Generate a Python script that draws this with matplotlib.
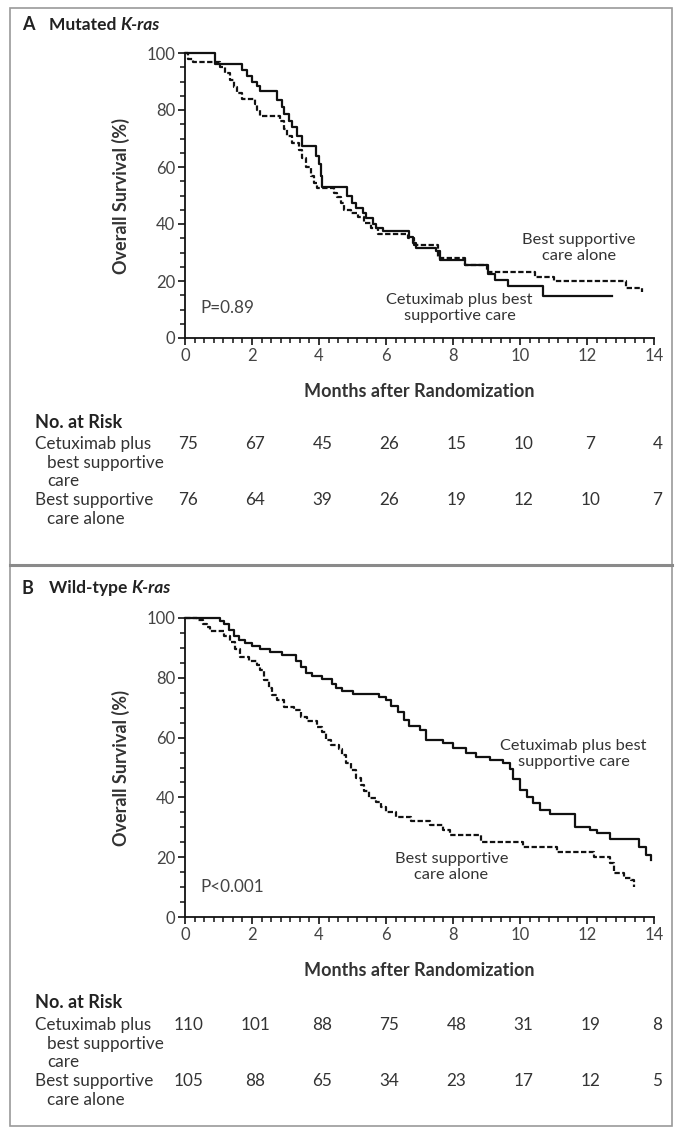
import matplotlib
matplotlib.use('Agg')
import matplotlib.pyplot as plt
from matplotlib.ticker import MultipleLocator, AutoMinorLocator
from matplotlib.patches import Rectangle
from matplotlib.lines import Line2D
import matplotlib.transforms as mtransforms

plt.rcParams['font.family'] = ['Lato', 'DejaVu Sans']

W, H = 675, 1129
text_col = '#333333'
fs_txt = 12.3
fs_ann = 11.8

# ── Panel A: mutated K-ras (step curves, KM) ─────────────
a_cet_t = [0, 0.9, 1.6, 1.7, 1.85, 2.0, 2.15, 2.25, 2.75, 2.9, 2.95, 3.1, 3.2, 3.35, 3.5,
           3.9, 4.0, 4.05, 4.1, 4.83, 4.98, 5.1, 5.3, 5.4, 5.6, 5.7, 5.9, 6.6, 6.7, 6.8,
           6.9, 7.5, 7.6, 8.35, 9.05, 9.25, 9.65, 10.7, 12.75]
a_cet_s = [100, 96, 96, 94, 92, 90, 88.5, 86.5, 83.5, 81, 78.5, 76, 74, 71, 67.5,
           64, 61, 57, 53, 50, 47.5, 45.5, 44, 42, 40, 38.5, 37.5, 37.5, 35.5, 33.5,
           31.5, 30.5, 27.5, 25.5, 22.5, 20.3, 18.3, 14.8, 14.8]

a_bsc_t = [0, 0.1, 0.25, 1.05, 1.2, 1.35, 1.45, 1.55, 1.7, 2.1, 2.15, 2.25, 2.85, 2.95,
           3.05, 3.2, 3.4, 3.5, 3.6, 3.75, 3.85, 3.95, 4.45, 4.55, 4.65, 4.75, 4.95, 5.15,
           5.35, 5.55, 5.75, 6.65, 6.85, 7.55, 8.35, 9.0, 10.45, 11.0, 13.15, 13.65]
a_bsc_s = [100, 98, 97, 95, 93, 90.5, 88, 86, 84, 82, 80, 78, 76, 73.5,
           71, 68.5, 66, 63, 60, 57, 54.5, 52.5, 51, 49.5, 47.5, 45, 44, 42.5,
           40.5, 38.5, 36.5, 35, 32.5, 28, 25.5, 23, 21.5, 20, 17.5, 16]

# ── Panel B: wild-type K-ras ─────────────────────────────
b_cet_t = [0, 1.05, 1.15, 1.3, 1.45, 1.6, 1.8, 2.0, 2.25, 2.55, 2.9, 3.3, 3.45, 3.6,
           3.8, 4.1, 4.4, 4.5, 4.7, 5.0, 5.8, 6.0, 6.15, 6.35, 6.55, 6.7, 7.0, 7.2,
           7.7, 8.0, 8.4, 8.7, 9.1, 9.5, 9.7, 9.8, 10.0, 10.2, 10.4, 10.6, 10.9, 11.65,
           12.1, 12.3, 12.7, 13.55, 13.75, 13.9]
b_cet_s = [100, 99, 98, 96, 94, 92.5, 91.5, 90.5, 89.5, 88.5, 87.5, 85.5, 83.5, 81.5,
           80.5, 79.5, 78, 76.5, 75.5, 74.5, 73.5, 72.5, 70.5, 68.5, 66, 64, 62.5, 59.2,
           58.2, 56.5, 55, 53.6, 52.5, 51.5, 49.5, 46, 42.5, 40.2, 38.1, 35.8, 34.6, 30,
           29.2, 28, 26, 23.5, 20.7, 19]

b_bsc_t = [0, 0.35, 0.55, 0.65, 0.75, 1.15, 1.35, 1.5, 1.65, 1.9, 2.15, 2.25, 2.35,
           2.5, 2.6, 2.75, 2.95, 3.25, 3.45, 3.65, 3.95, 4.1, 4.2, 4.35, 4.6, 4.7, 4.8,
           4.95, 5.1, 5.25, 5.35, 5.5, 5.7, 5.85, 6.0, 6.3, 6.75, 7.3, 7.7, 7.9, 8.85,
           10.1, 11.1, 12.2, 12.7, 12.8, 13.1, 13.3, 13.4]
b_bsc_s = [100, 99.3, 98, 97, 95.5, 94, 92, 89.5, 87, 85.5, 84.3, 82.5, 79.3,
           76.5, 74.3, 72.5, 70.4, 69.3, 67, 65.4, 63.7, 62, 59.2, 57.5, 56.3, 54.2, 51.5,
           49.2, 46.5, 44, 42, 39.7, 38.3, 36.8, 35.2, 33.5, 32.2, 30.8, 29.1, 27.4, 25.2,
           23.5, 21.8, 20.2, 18, 14.6, 13, 12.4, 10.1]

month_ticks = [0, 2, 4, 6, 8, 10, 12, 14]
a_risk_cet = ['75', '67', '45', '26', '15', '10', '7', '4']
a_risk_bsc = ['76', '64', '39', '26', '19', '12', '10', '7']
b_risk_cet = ['110', '101', '88', '75', '48', '31', '19', '8']
b_risk_bsc = ['105', '88', '65', '34', '23', '17', '12', '5']

fig = plt.figure(figsize=(W / 100, H / 100), dpi=100)


def fy(px):
    return 1 - px / H


def fx(px):
    return px / W


# frame + separator
fig.patches.append(Rectangle((fx(10), fy(1126)), fx(662), (1118) / H,
                             transform=fig.transFigure, fill=False,
                             edgecolor='#9a9a9a', linewidth=1.2))
fig.lines.append(Line2D([fx(10), fx(672)], [fy(565), fy(565)],
                        transform=fig.transFigure, color='#8a8a8a', linewidth=2.2))


def title(ypx, letter, word):
    r = fig.canvas.get_renderer()
    fig.text(fx(22), fy(ypx), letter, fontsize=13, fontweight='bold',
             color='#222222', va='center', ha='left')
    t2 = fig.text(fx(49), fy(ypx), word + ' ', fontsize=12.5, fontweight='bold',
                  color='#222222', va='center', ha='left')
    bb = t2.get_window_extent(r)
    fig.text(bb.x1 / fig.dpi / fig.get_figwidth(), fy(ypx), 'K-ras', fontsize=12.5,
             fontweight='bold', style='italic', color='#222222', va='center', ha='left')


def panel(top_px, bot_px, cet_t, cet_s, bsc_t, bsc_s):
    ax = fig.add_axes([fx(185), fy(bot_px), fx(654) - fx(185), (bot_px - top_px) / H])
    ax.step(cet_t, cet_s, where='post', color='#111111', linewidth=1.6, clip_on=False)
    ax.step(bsc_t, bsc_s, where='post', color='#111111', linewidth=1.6,
            linestyle=(0, (2.4, 1.1)), clip_on=False)
    ax.set_xlim(0, 14)
    ax.set_ylim(0, 100)
    ax.xaxis.set_major_locator(MultipleLocator(2))
    ax.xaxis.set_minor_locator(AutoMinorLocator(7))
    ax.yaxis.set_major_locator(MultipleLocator(20))
    ax.yaxis.set_minor_locator(MultipleLocator(5))
    for s in ['top', 'right']:
        ax.spines[s].set_visible(False)
    for s in ['left', 'bottom']:
        ax.spines[s].set_linewidth(1.3)
        ax.spines[s].set_color('#111111')
    ax.tick_params(which='major', length=5, width=1.2, color='#111111',
                   labelsize=12, labelcolor='#444444', pad=2)
    ax.tick_params(which='minor', length=3.5, width=1.1, color='#111111')
    ax.set_ylabel('Overall Survival (%)', fontsize=13, fontweight='bold',
                  color=text_col, labelpad=12)
    ax.set_xlabel('Months after Randomization', fontsize=13, fontweight='bold',
                  color=text_col, labelpad=14)
    return ax


def risk_table(ax, ypx, cet, bsc):
    tr = mtransforms.blended_transform_factory(ax.transData, fig.transFigure)
    fig.text(fx(35), fy(ypx), 'No. at Risk', fontsize=13, fontweight='bold',
             color='#222222', va='center', ha='left')
    rows = [(ypx + 22, 'Cetuximab plus', cet), (ypx + 78, 'Best supportive', bsc)]
    for y, lab, vals in rows:
        fig.text(fx(35), fy(y), lab, fontsize=fs_txt, color=text_col, va='center', ha='left')
        for m, v in zip(month_ticks, vals):
            ax.text(m + 0.1, fy(y), v, transform=tr, fontsize=fs_txt, color=text_col,
                    va='center', ha='center', clip_on=False)
    fig.text(fx(47), fy(ypx + 41), 'best supportive', fontsize=fs_txt, color=text_col,
             va='center', ha='left')
    fig.text(fx(47), fy(ypx + 59), 'care', fontsize=fs_txt, color=text_col,
             va='center', ha='left')
    fig.text(fx(47), fy(ypx + 97), 'care alone', fontsize=fs_txt, color=text_col,
             va='center', ha='left')


# ── Panel A ──────────────────────────────────────────────
title(25, 'A', 'Mutated')
axA = panel(53, 338, a_cet_t, a_cet_s, a_bsc_t, a_bsc_s)
axA.text(11.75, 31.5, 'Best supportive\ncare alone', fontsize=fs_ann, color=text_col,
         ha='center', va='center', linespacing=1.15)
axA.text(8.2, 10.5, 'Cetuximab plus best\nsupportive care', fontsize=fs_ann,
         color=text_col, ha='center', va='center', linespacing=1.15)
axA.text(0.45, 10.5, 'P=0.89', fontsize=fs_txt, color='#444444', ha='left', va='center')
risk_table(axA, 422, a_risk_cet, a_risk_bsc)

# ── Panel B ──────────────────────────────────────────────
title(588, 'B', 'Wild-type')
axB = panel(618, 917, b_cet_t, b_cet_s, b_bsc_t, b_bsc_s)
axB.text(11.6, 54.5, 'Cetuximab plus best\nsupportive care', fontsize=fs_ann,
         color=text_col, ha='center', va='center', linespacing=1.15)
axB.text(7.95, 16.8, 'Best supportive\ncare alone', fontsize=fs_ann, color=text_col,
         ha='center', va='center', linespacing=1.15)
axB.text(0.45, 10, 'P<0.001', fontsize=fs_txt, color='#444444', ha='left', va='center')
risk_table(axB, 1003, b_risk_cet, b_risk_bsc)

fig.savefig('out.png', dpi=100, facecolor='white')
